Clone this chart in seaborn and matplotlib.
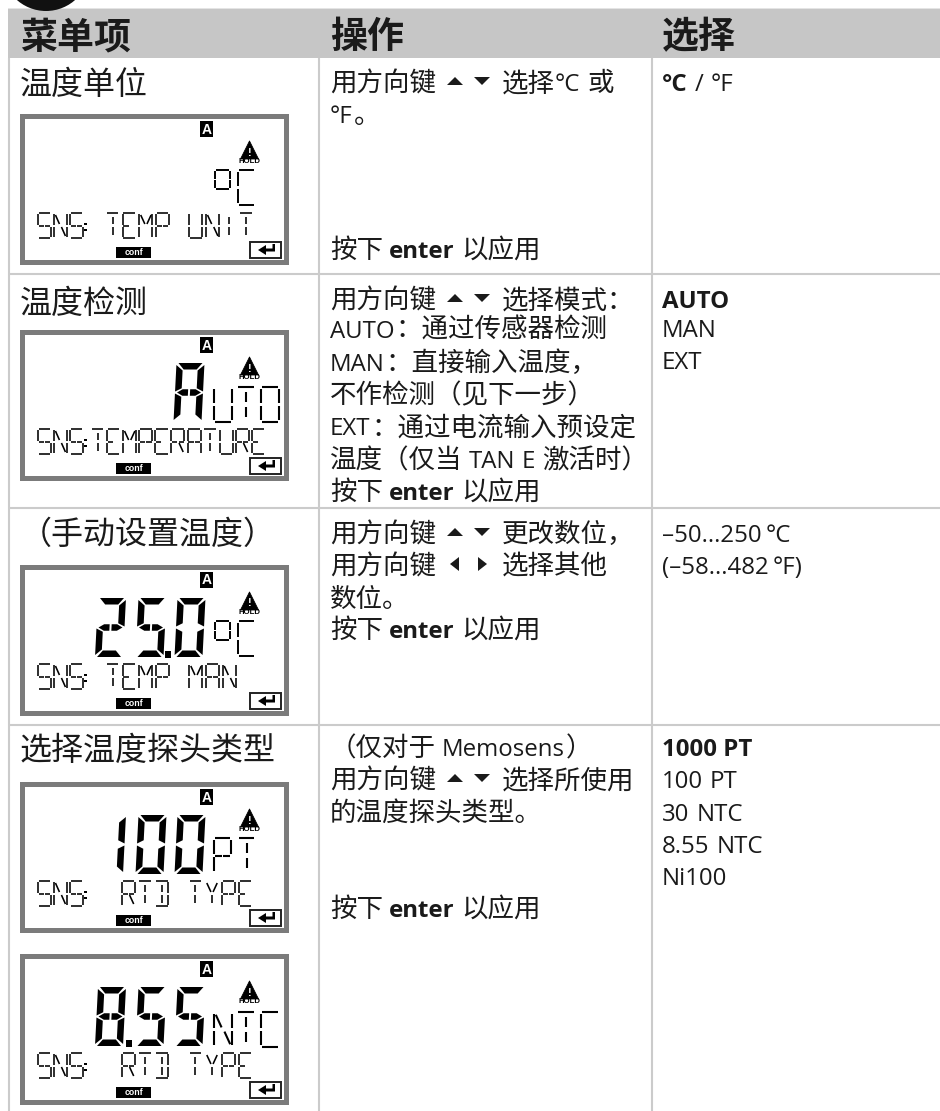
import re
import matplotlib
matplotlib.use("Agg")
import matplotlib.pyplot as plt
from matplotlib.patches import Circle, Polygon, Rectangle
import seaborn as sns

# table text
headers = ["菜单项", "操作", "选择"]
row_titles = ["温度单位", "温度检测", "（手动设置温度）", "选择温度探头类型"]
action_lines = [
    "用方向键 ▲▼ 选择°C 或", "°F。", "按下 *enter* 以应用",
    "用方向键 ▲▼ 选择模式：", "AUTO：通过传感器检测", "MAN：直接输入温度，",
    "不作检测（见下一步）", "EXT：通过电流输入预设定", "温度（仅当 TAN E 激活时）", "按下 *enter* 以应用",
    "用方向键 ▲▼ 更改数位，", "用方向键 ◀▶ 选择其他", "数位。", "按下 *enter* 以应用",
    "（仅对于 Memosens）", "用方向键 ▲▼ 选择所使用", "的温度探头类型。", "按下 *enter* 以应用",
]
option_lines = [
    "*°C* / °F",
    "*AUTO*", "MAN", "EXT",
    "–50...250\u2009°C", "(–58...482\u2009°F)",
    "*1000 PT*", "100 PT", "30 NTC", "8.55 NTC", "Ni100",
]

# lcd text, one entry per display
lcd_big = ["", "A", "25.0", "100", "8.55"]
lcd_mid = ["C", "UTO", "C", "PT", "NTC"]
lcd_left = ["SNS:", "SNS:", "SNS:", "SNS:", "SNS:"]
lcd_right = ["TEMP UNIT", "TEMPERATURE", "TEMP MAN", "RTD TYPE", "RTD TYPE"]

# layout in pixels
W, H = 940, 1111
title_y = [82, 301, 532, 748]
action_y = [81, 113, 248, 298, 328, 361, 393, 425, 458, 490, 532, 564, 597, 628, 746, 778, 811, 907]
option_y = [81, 298, 327, 359, 532, 564, 746, 778, 811, 843, 875]
row_lines = [274, 508, 725]
col_x = [20, 330, 662]
lcd_tops = [113, 329, 564, 781, 953]
cjk_px, latin_px = 26.5, 24

DARK = "#1a1a1a"
LINE = "#cbcbcb"
FRAME = "#7b7b7b"
CJK = "Noto Sans CJK SC"
LATIN = "Open Sans"

# 14 segment map
SEG = {
    "a": ((.06, 0), (.94, 0)), "b": ((1, .05), (1, .46)), "c": ((1, .54), (1, .95)),
    "d": ((.06, 1), (.94, 1)), "e": ((0, .54), (0, .95)), "f": ((0, .05), (0, .46)),
    "g": ((.06, .5), (.46, .5)), "q": ((.54, .5), (.94, .5)),
    "h": ((.5, .14), (.5, .44)), "j": ((.5, .56), (.5, .86)),
    "k": ((.1, .08), (.42, .44)), "l": ((.9, .08), (.58, .44)),
    "m": ((.1, .92), (.42, .56)), "n": ((.9, .92), (.58, .56)),
}
GLYPH = {
    "S": "afgqcd", "N": "fekncb", "T": "ahj", "E": "afedg", "M": "feklbc", "P": "afebgq",
    "U": "fedcb", "I": "hj", "A": "afebcgq", "R": "afebgqn", "D": "abcdhj", "Y": "klj",
    "C": "afed", "O": "abcdef",
}
BIG = {"0": "abcdef", "1": "bc", "2": "abgqed", "5": "afgqcd", "8": "abcdefgq", "A": "abcefgq"}

sns.set_theme(style="white")
plt.rcParams["font.family"] = [LATIN, CJK, "DejaVu Sans"]

fig = plt.figure(figsize=(W / 100, H / 100), dpi=100)
ax = fig.add_axes([0, 0, 1, 1])
ax.set_xlim(0, W)
ax.set_ylim(H, 0)
ax.axis("off")
sns.despine(ax=ax, left=True, bottom=True)
renderer = fig.canvas.get_renderer()


def put(x, base, s, px, fam, bold=False, color=DARK):
    t = ax.text(x, base, s, fontsize=px * 0.72, family=fam, color=color,
                fontweight="bold" if bold else "normal", va="baseline", ha="left", zorder=5)
    return t.get_window_extent(renderer).width


def tri(cx, cy, kind):
    if kind == "▲":
        p = [(cx - 8, cy + 4), (cx + 8, cy + 4), (cx, cy - 4)]
    elif kind == "▼":
        p = [(cx - 8, cy - 4), (cx + 8, cy - 4), (cx, cy + 4)]
    elif kind == "◀":
        p = [(cx + 4, cy - 7), (cx + 4, cy + 7), (cx - 5, cy)]
    else:
        p = [(cx - 4, cy - 7), (cx - 4, cy + 7), (cx + 5, cy)]
    ax.add_patch(Polygon(p, closed=True, fc=DARK, ec="none", zorder=5))


def flow(x, cy, line):
    # walks a mixed line, cjk and latin have different sizes here
    base = cy + 0.38 * cjk_px
    tokens = re.findall(r"\*[^*]+\*|[▲▼◀▶]|[ \u2009]|[A-Za-z0-9°.\-–/()]+|[^A-Za-z0-9°.\-–/() \u2009*▲▼◀▶]+", line)
    for tok in tokens:
        if tok == " ":
            x += 6
        elif tok == "\u2009":
            x += 3
        elif tok in "▲▼◀▶":
            tri(x + 13, cy, tok)
            x += 27
        elif tok.startswith("*"):
            x += put(x, base, tok.strip("*"), latin_px, LATIN, bold=True) + 1
        elif re.match(r"[A-Za-z0-9°.\-–/()]", tok):
            x += put(x, base, tok, latin_px, LATIN) + 1
        else:
            x += put(x, base, tok, cjk_px, CJK)


def thin_char(x, y, w, h, ch, lw=1.3):
    for name in GLYPH[ch]:
        (x0, y0), (x1, y1) = SEG[name]
        ax.plot([x + x0 * w, x + x1 * w], [y + y0 * h, y + y1 * h], color="black",
                lw=lw, solid_capstyle="butt", zorder=4)


def thin_string(x, y, w, h, pitch, s, lw=1.3):
    for ch in s:
        if ch == ":":
            # colon shares the cell after the letter before it
            for f in (.42, .68):
                ax.add_patch(Rectangle((x - 2.2, y + h * f - 1), 2.2, 2.2, fc="black", ec="none", zorder=4))
            continue
        if ch != " ":
            thin_char(x, y, w, h, ch, lw)
        x += pitch


def big_char(x, y, w, h, ch, t=6.5, slant=3):
    x0, x1, y0, y1, ym = x, x + w, y, y + h, y + h / 2
    shape = {
        "a": [(x0 + 2, y0), (x1 - 2, y0), (x1 - t - 1, y0 + t), (x0 + t + 1, y0 + t)],
        "d": [(x0 + 2, y1), (x1 - 2, y1), (x1 - t - 1, y1 - t), (x0 + t + 1, y1 - t)],
        "f": [(x0, y0 + 2), (x0 + t, y0 + t + 1), (x0 + t, ym - t / 2 - 1), (x0, ym - 1)],
        "e": [(x0, y1 - 2), (x0 + t, y1 - t - 1), (x0 + t, ym + t / 2 + 1), (x0, ym + 1)],
        "b": [(x1, y0 + 2), (x1 - t, y0 + t + 1), (x1 - t, ym - t / 2 - 1), (x1, ym - 1)],
        "c": [(x1, y1 - 2), (x1 - t, y1 - t - 1), (x1 - t, ym + t / 2 + 1), (x1, ym + 1)],
        "g": [(x0 + 2, ym), (x0 + t + 1, ym - t / 2), (x0 + w / 2 - 1, ym - t / 2),
              (x0 + w / 2 - 1, ym + t / 2), (x0 + t + 1, ym + t / 2)],
        "q": [(x1 - 2, ym), (x1 - t - 1, ym - t / 2), (x0 + w / 2 + 1, ym - t / 2),
              (x0 + w / 2 + 1, ym + t / 2), (x1 - t - 1, ym + t / 2)],
    }
    for name in BIG[ch]:
        pts = [(px + slant * (y1 - py) / h - slant / 2, py) for px, py in shape[name]]
        ax.add_patch(Polygon(pts, closed=True, fc="black", ec="none", zorder=4))


def lcd(top, i):
    ax.add_patch(Rectangle((21.5, top + 2.5), 264, 146, fc="white", ec=FRAME, lw=3.6, zorder=3))
    # A flag
    ax.add_patch(Rectangle((200, top + 8), 13, 16, fc="black", ec="none", zorder=4))
    ax.text(206.5, top + 16.5, "A", color="white", fontsize=10, fontweight="bold", family="Liberation Sans",
            ha="center", va="center", zorder=5)
    # hold sign
    ax.add_patch(Polygon([(240.5, top + 46), (258.5, top + 46), (249.5, top + 28)], closed=True,
                         fc="black", ec="black", lw=0.6, joinstyle="round", zorder=4))
    ax.text(249.5, top + 39.5, "!", color="white", fontsize=8, fontweight="bold", family="Liberation Sans",
            ha="center", va="center", zorder=5)
    ax.text(249.5, top + 48.5, "HOLD", color="black", fontsize=5.6, fontweight="bold", family="Liberation Sans",
            ha="center", va="center", zorder=5)
    # conf tag
    ax.add_patch(Rectangle((116, top + 134), 35, 11, fc="black", ec="none", zorder=4))
    ax.text(133.5, top + 139.5, "conf", color="white", fontsize=6.3, fontweight="bold", family="Liberation Sans",
            ha="center", va="center", zorder=5)
    # enter key
    ax.add_patch(Rectangle((250, top + 128.5), 30.5, 16, fc="white", ec="#222222", lw=1.4, zorder=4))
    ax.add_patch(Polygon([(258, top + 137), (266, top + 132), (266, top + 135.5), (272.5, top + 135.5),
                          (272.5, top + 131), (275, top + 131), (275, top + 138.5), (266, top + 138.5),
                          (266, top + 142)], closed=True, fc="black", ec="none", zorder=5))
    # big digits
    s = lcd_big[i]
    if s == "A":
        big_char(175, top + 34, 28, 59, "A")
    elif s:
        slots = [96.5, 137, 176]
        k = 0
        for ch in s:
            if ch == ".":
                pos = slots[k] - 11
                ax.add_patch(Rectangle((pos, top + 87), 6, 6.5, fc="black", ec="none", zorder=4))
            else:
                big_char(slots[k], top + 34, 28, 59, ch)
                k += 1
    # smaller right part
    m = lcd_mid[i]
    if m == "C":
        thin_char(215, top + 57, 15, 19, "O", 1.4)
        thin_char(238, top + 57, 17, 35, "C", 1.4)
    elif m == "UTO":
        thin_string(214, top + 58, 18, 35, 23.3, m, 1.5)
    elif m == "PT":
        thin_string(214, top + 57, 17, 35, 24, m, 1.5)
    else:
        thin_string(214, top + 59, 18, 35, 23.3, m, 1.5)
    # bottom line
    thin_string(38, top + 100, 12.5, 25, 16.2, lcd_left[i], 1.15)
    rs = lcd_right[i]
    if rs == "TEMPERATURE":
        thin_string(91, top + 100, 13, 25, 16.1, rs, 1.15)
    elif rs == "RTD TYPE":
        thin_string(122, top + 100, 13, 25, 16.7, rs, 1.15)
    else:
        thin_string(106, top + 100, 13, 25, 16.7, rs, 1.15)


# table frame
ax.add_patch(Rectangle((8, 8), W - 8, 1.2, fc="#e4e4e4", ec="none", zorder=1))
ax.add_patch(Rectangle((8, 9), W - 8, 49, fc="#c6c6c6", ec="none", zorder=1))
for y in row_lines:
    ax.plot([8, W], [y, y], color=LINE, lw=1.5, solid_capstyle="butt", zorder=1)
for x in [9, 318.5, 651.5]:
    ax.plot([x, x], [58, H], color=LINE, lw=1.5, solid_capstyle="butt", zorder=1)
ax.add_patch(Circle((46, -33), 44, fc="#111111", ec="none", zorder=2))

# header and text columns
for x, s in zip(col_x, headers):
    put(x, 34 + 0.38 * 37, s, 37, CJK, bold=True)
for y, s in zip(title_y, row_titles):
    put(col_x[0], y + 0.38 * 32, s, 32, CJK)
for y, s in zip(action_y, action_lines):
    flow(col_x[1], y, s)
for y, s in zip(option_y, option_lines):
    flow(col_x[2], y, s)

for i, top in enumerate(lcd_tops):
    lcd(top, i)

fig.savefig("out.png", dpi=100, facecolor="white")
